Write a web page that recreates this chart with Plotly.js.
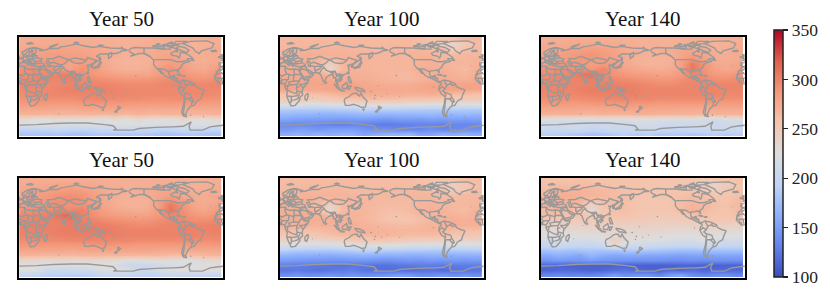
<!DOCTYPE html>
<html><head><meta charset="utf-8">
<script src="https://cdn.plot.ly/plotly-3.0.1.min.js"></script>
<style>html,body{margin:0;padding:0;background:#fff}#c{width:830px;height:298px}</style>
</head><body><div id="c"></div>
<script>
const titles = ["Year 50","Year 100","Year 140","Year 50","Year 100","Year 140"];
const lons = [10,30,50,70,90,110,130,150,170,190,210,230,250,270,290,310,330,350];
const lats = [85.5,76.5,67.5,58.5,49.5,40.5,31.5,22.5,13.5,4.5,-4.5,-13.5,-22.5,-31.5,-40.5,-49.5,-58.5,-67.5,-76.5,-85.5];
const tickVals = [100,150,200,250,300,350];

const z1 = [
[272,272,273,273,273,272,272,271,271,270,270,271,272,272,271,270,271,272],
[273,274,274,275,274,273,272,271,271,270,271,272,272,272,271,268,270,272],
[276,278,279,280,279,278,276,274,272,271,272,274,275,275,272,270,272,274],
[278,281,283,283,282,281,278,274,272,270,270,272,276,278,274,272,272,274],
[280,284,286,286,285,284,280,274,270,268,268,270,278,280,276,272,271,274],
[286,288,288,286,278,286,284,276,270,268,268,270,278,285,280,274,272,278],
[292,294,292,290,280,290,286,278,272,270,270,272,284,292,284,276,275,282],
[294,296,296,300,302,292,288,284,280,278,278,278,284,290,288,284,282,288],
[296,298,298,298,300,296,294,292,290,288,288,288,292,294,294,290,290,292],
[298,298,296,296,298,298,298,298,296,294,294,294,296,298,298,296,296,298],
[296,296,296,298,300,300,300,300,298,297,296,296,296,296,296,296,296,296],
[294,296,296,298,298,298,298,298,298,297,296,296,296,296,296,296,296,294],
[290,292,292,292,292,294,296,296,294,294,294,292,292,292,294,292,290,290],
[284,286,284,284,284,286,288,286,286,285,284,284,284,284,284,284,282,282],
[276,276,276,274,274,276,276,278,276,275,276,274,274,274,274,274,274,274],
[268,268,266,266,266,266,268,266,268,264,268,266,266,268,266,266,266,268],
[232,226,222,232,224,230,224,220,230,222,234,226,226,222,236,228,226,232],
[222,222,224,222,220,222,224,225,222,225,224,222,222,220,222,222,222,222],
[195,195,198,200,198,196,198,202,205,205,200,200,196,198,205,200,198,198],
[180,182,180,182,178,178,182,185,182,182,184,182,180,178,182,184,180,180]];

const z2 = [
[264,264,265,265,264,264,265,264,264,263,264,264,262,258,255,258,262,264],
[264,265,265,265,265,266,265,264,264,264,265,264,262,255,245,238,250,262],
[266,268,268,268,268,268,266,266,266,266,266,266,266,264,262,245,258,264],
[268,270,272,270,270,270,268,267,266,266,266,268,268,268,264,262,266,266],
[272,272,272,268,264,268,268,268,266,266,266,266,270,270,266,266,266,268],
[272,272,270,264,240,266,268,268,266,266,266,266,268,270,268,266,266,268],
[274,274,272,266,232,264,268,268,266,266,266,266,272,272,270,266,262,270],
[274,274,274,272,268,270,272,270,268,266,264,264,268,270,272,270,266,272],
[276,276,276,276,274,274,272,272,270,268,266,264,268,270,272,272,270,274],
[280,280,278,278,278,278,278,276,274,272,272,272,274,278,280,280,278,280],
[278,278,276,276,278,280,280,278,276,276,274,274,276,278,280,280,278,278],
[258,256,258,260,264,268,272,272,272,272,272,270,270,272,268,262,262,258],
[250,250,248,248,250,254,256,260,262,260,258,256,256,254,252,250,248,248],
[226,226,222,222,224,226,230,232,232,228,230,226,224,224,224,222,224,224],
[188,186,186,186,186,188,190,194,192,190,190,188,188,186,188,188,186,186],
[170,168,168,166,164,166,168,170,168,166,168,168,168,170,168,168,170,168],
[155,152,150,150,150,148,150,150,148,146,148,150,148,152,150,152,150,152],
[138,136,136,135,132,130,134,132,130,128,130,132,134,134,132,136,135,136],
[145,150,150,145,150,150,150,145,140,140,135,135,135,140,135,135,140,140],
[160,165,160,165,160,165,165,155,160,165,165,170,155,155,165,160,165,160]];

const z3 = [
[271,272,272,273,273,272,272,271,271,270,270,270,271,272,272,270,270,271],
[273,274,275,276,276,275,274,272,271,270,270,270,271,273,272,268,270,272],
[275,278,280,282,284,282,278,274,272,271,272,274,276,277,273,270,272,274],
[278,282,285,287,290,286,280,275,272,270,270,272,278,282,276,272,272,274],
[280,284,286,288,288,285,280,274,270,268,268,270,280,292,282,273,272,274],
[282,288,290,288,282,286,284,276,271,268,268,270,282,304,290,276,274,278],
[292,292,292,294,288,298,288,280,276,274,272,274,284,306,290,280,276,280],
[294,296,296,304,310,296,290,286,284,282,280,280,286,296,292,286,284,288],
[296,298,298,300,302,298,296,294,292,290,288,288,292,296,296,292,292,294],
[298,298,298,298,300,300,300,300,298,296,294,294,296,298,298,298,298,298],
[298,298,298,300,302,302,302,302,300,298,298,298,298,298,298,298,298,298],
[296,296,296,298,300,300,300,300,300,298,298,298,298,298,298,298,296,296],
[292,292,292,294,294,296,296,296,296,296,294,294,294,294,294,292,292,292],
[286,286,284,284,286,286,286,288,286,286,284,284,284,284,284,284,282,284],
[276,276,276,276,274,276,276,278,276,276,276,276,274,274,274,274,274,274],
[270,268,270,268,266,270,268,268,270,270,268,268,268,268,266,268,268,268],
[222,219,219,219,219,219,223,221,223,223,221,219,219,221,215,213,219,221],
[210,205,212,210,205,210,208,206,212,214,212,208,210,208,208,205,210,208],
[205,202,205,205,200,202,205,204,205,205,205,200,200,205,205,205,205,205],
[190,188,185,182,178,180,185,190,185,190,182,185,185,182,185,190,185,190]];

const z4 = [
[272,272,273,273,273,273,272,271,271,271,271,271,272,272,272,271,271,272],
[274,275,276,277,278,277,275,273,272,271,271,272,272,274,272,270,271,273],
[277,279,281,284,286,284,279,275,272,271,272,274,276,278,274,271,272,275],
[280,283,286,290,292,290,282,276,273,271,271,273,278,282,276,273,273,276],
[282,285,288,292,294,292,284,276,271,269,269,271,282,292,282,274,272,276],
[284,288,290,294,290,292,286,278,272,269,269,272,284,304,290,277,274,280],
[292,294,294,298,296,300,290,282,276,274,272,275,286,306,292,281,277,284],
[296,298,300,308,314,300,292,287,284,282,280,281,288,296,294,288,285,290],
[298,300,300,302,304,300,298,295,292,290,289,289,293,296,296,293,293,296],
[300,300,300,300,302,302,302,301,299,297,295,295,297,299,299,299,299,300],
[300,300,300,302,303,303,303,303,301,299,299,299,299,299,299,299,299,300],
[298,298,298,300,301,301,301,301,301,299,299,299,299,299,299,299,297,298],
[294,294,294,296,296,297,297,297,297,297,295,295,295,295,295,294,293,294],
[288,287,286,286,286,287,287,289,287,287,285,285,285,285,285,285,284,286],
[278,278,278,278,276,278,278,279,278,278,278,278,276,276,276,276,276,276],
[268,266,266,266,264,266,266,266,266,266,264,264,264,262,258,262,264,266],
[236,234,234,234,234,234,236,234,232,224,226,228,230,228,224,224,232,234],
[226,224,222,224,222,224,222,224,220,206,202,204,210,218,222,222,226,226],
[224,222,206,204,206,208,214,222,226,222,210,204,216,224,226,226,228,226],
[198,196,190,190,188,188,192,198,200,198,194,192,198,204,200,196,196,196]];

const z5 = [
[262,262,263,263,262,262,263,262,262,262,262,262,260,258,256,258,260,262],
[263,264,264,264,264,264,264,263,262,262,263,262,260,256,250,244,252,260],
[264,266,266,266,266,266,264,264,264,264,264,264,264,262,260,246,256,262],
[266,268,270,268,268,268,266,265,264,264,264,266,266,266,262,260,264,264],
[268,270,270,266,264,266,266,266,264,264,264,264,268,268,264,264,264,266],
[270,270,268,262,240,264,266,266,264,262,262,262,266,268,266,264,264,266],
[272,272,270,264,232,262,266,266,262,260,260,262,268,270,268,264,262,268],
[272,272,272,270,266,268,268,266,262,258,256,258,264,266,268,268,266,270],
[272,272,272,272,270,270,268,266,262,258,256,256,260,264,270,272,270,272],
[270,270,268,268,270,272,270,268,266,264,262,262,264,268,270,272,270,270],
[262,260,260,262,266,268,270,270,268,268,266,266,266,268,266,262,260,260],
[252,250,252,254,258,262,264,264,266,266,264,262,262,262,260,254,254,252],
[240,238,236,238,240,244,250,252,254,252,250,246,244,244,242,240,238,238],
[218,218,216,214,216,220,224,226,226,224,224,220,218,218,216,216,216,218],
[190,186,184,184,184,186,190,194,192,188,188,186,186,184,186,186,186,188],
[166,162,162,160,160,162,164,166,164,162,164,162,162,164,164,162,164,164],
[150,148,146,146,144,144,146,146,144,142,144,146,144,148,146,148,146,148],
[130,128,128,126,124,122,126,124,122,122,124,126,128,128,126,128,128,130],
[125,128,125,122,125,128,130,125,122,120,122,120,122,124,120,122,124,125],
[140,145,140,142,145,140,145,140,142,145,150,148,140,140,145,140,145,140]];

const z6 = [
[258,258,258,260,258,258,258,258,258,256,256,256,256,254,252,252,254,258],
[260,262,262,262,262,260,258,258,258,256,256,256,254,252,246,240,248,256],
[262,268,268,268,266,264,262,260,258,256,256,256,256,256,252,244,252,258],
[266,270,272,270,268,266,262,260,258,256,256,258,258,262,258,254,256,260],
[268,270,270,268,258,262,262,260,256,254,254,256,262,264,260,258,256,262],
[270,272,268,262,238,258,262,260,256,254,254,256,262,268,264,260,258,264],
[264,266,264,258,232,252,260,260,256,254,254,256,262,270,264,258,256,262],
[262,260,258,256,252,254,258,258,254,250,250,250,252,258,258,256,256,260],
[252,250,250,250,250,250,250,250,250,248,246,246,248,250,252,254,252,252],
[240,240,240,240,242,244,242,242,242,242,240,240,240,240,244,244,242,240],
[232,232,232,234,236,236,236,236,236,236,234,234,232,232,236,234,232,232],
[224,224,226,226,228,230,232,232,232,232,230,228,226,226,230,226,226,224],
[214,218,216,214,216,222,246,232,224,222,220,218,216,216,226,216,214,214],
[200,206,204,200,200,206,234,212,208,208,206,204,202,200,206,202,200,200],
[180,182,178,180,182,180,182,184,184,182,180,178,176,176,178,178,178,178],
[158,164,160,156,168,160,156,158,158,156,156,154,152,154,154,154,156,156],
[144,148,146,146,150,146,144,144,142,142,142,140,140,142,140,142,142,142],
[116,114,112,112,112,112,114,112,112,112,112,112,114,114,112,112,114,114],
[115,118,118,116,114,116,120,125,118,114,114,120,118,122,116,118,118,118],
[135,138,135,135,135,140,150,140,145,145,135,150,155,140,135,140,142,135]];

const coastlines = [
[[-6,36],[-2,35],[3,37],[10,37],[11,33.5],[15,32],[20,31],[25,32],[32,31],[34,28],[37,22],[39,16],[43,12],[51,12],[49,7],[44,1],[40,-4],[39,-10],[40,-15],[35,-20],[35,-24],[32,-28],[27,-34],[20,-35],[18,-32],[15,-25],[12,-17],[13,-9],[9,-1],[9,4],[5,6],[-3,5],[-8,4.5],[-13,9],[-17,14],[-16,20],[-13,27],[-9,32],[-6,36]],
[[49,-12],[50,-16],[47,-25],[44,-23],[44,-17],[49,-12]],
[[-9,37],[-9,43],[-2,43.5],[-1,46],[-5,48],[1,50],[4,52],[8,54],[8,57],[10,54],[14,54],[20,55],[22,58],[29,60],[23,60],[21,63],[25,65],[22,66],[17,61],[18,59],[16,56],[13,56],[11,59],[6,58],[5,62],[14,68],[25,71],[33,69],[41,67],[35,65],[44,66],[54,69],[68,69],[73,72],[80,73],[100,77],[113,74],[130,71],[140,73],[160,70],[180,69],[190,66],[180,65],[178,63],[170,60],[163,60],[162,55],[157,51],[156,57],[163,62],[155,59],[142,59],[135,55],[141,53],[140,48],[132,43],[128,39],[129,35],[126,35],[126,38],[125,40],[121,39],[118,39],[122,37],[120,34],[122,30],[119,25],[114,22],[110,21],[106,19],[109,13],[105,9],[100,13],[100,9],[103,2],[100,5],[98,9],[98,16],[94,16],[94,20],[90,22],[86,20],[80,15],[80,11],[77,8],[73,18],[72,21],[67,25],[57,25],[56,27],[50,30],[48,30],[51,25],[56,24],[59,22],[55,17],[45,13],[43,15],[39,21],[35,28],[35,36],[27,37],[26,40],[24,38],[22,37],[19,42],[13,45],[18,40],[16,38],[12,42],[8,44],[3,43],[0,39],[-5,36],[-9,37]],
[[28,41],[28,45],[33,46],[38,47],[40,43],[35,42],[28,41]],
[[50,37],[54,37],[53,42],[51,47],[47,45],[50,40],[50,37]],
[[-5,50],[1,51],[0,54],[-3,58],[-6,57],[-3,54],[-5,52],[-5,50]],
[[-10,52],[-6,52],[-6,55],[-10,54],[-10,52]],
[[-24,65],[-15,66],[-14,64],[-22,63.5],[-24,65]],
[[130,32],[135,34],[140,35],[142,40],[141,42],[145,43],[142,45],[140,41],[137,37],[131,34],[130,32]],
[[142,46],[143,50],[142,54],[142,46]],
[[120,22],[122,25],[120,25],[120,22]],
[[109,19],[111,20],[110,18],[109,19]],
[[80,9],[82,7],[80,6],[80,9]],
[[120,18],[122,18],[124,13],[126,7],[122,7],[120,14],[120,18]],
[[109,1],[117,7],[119,1],[116,-4],[110,-3],[109,1]],
[[95,5],[104,-2],[106,-6],[101,-3],[95,5]],
[[105,-7],[114,-8],[108,-6],[105,-7]],
[[120,1],[125,1],[122,-5],[120,-5],[120,1]],
[[131,-1],[141,-3],[147,-6],[150,-10],[143,-8],[138,-8],[133,-4],[131,-1]],
[[114,-22],[122,-18],[126,-14],[131,-12],[136,-12],[136,-15],[140,-17],[142,-11],[146,-19],[153,-26],[150,-37],[144,-38],[138,-35],[135,-34],[129,-32],[123,-34],[115,-34],[113,-26],[114,-22]],
[[145,-41],[148,-41],[147,-43],[145,-41]],
[[173,-35],[178,-38],[175,-41],[173,-39],[173,-35]],
[[173,-41],[171,-46],[167,-46],[173,-41]],
[[-168,66],[-162,70],[-156,71],[-140,70],[-125,70],[-110,68],[-95,68],[-95,72],[-85,69],[-82,67],[-94,60],[-92,57],[-82,55],[-80,51],[-78,55],[-77,62],[-70,61],[-65,59],[-56,52],[-66,50],[-60,46],[-66,44],[-70,43],[-74,40],[-76,35],[-81,31],[-80,25],[-82,28],[-84,30],[-90,29],[-97,28],[-97,22],[-95,18],[-91,19],[-87,21],[-88,16],[-83,15],[-83,10],[-78,9],[-80,7],[-85,10],[-92,14],[-97,16],[-105,20],[-109,25],[-113,31],[-110,23],[-115,30],[-120,34],[-124,40],[-124,48],[-130,54],[-140,60],[-150,60],[-158,57],[-165,55],[-158,59],[-165,62],[-168,66]],
[[-73,78],[-60,82],[-30,83],[-18,78],[-22,70],[-40,65],[-44,60],[-52,65],[-55,70],[-68,76],[-73,78]],
[[-80,73],[-70,71],[-62,66],[-66,62],[-75,65],[-85,70],[-80,73]],
[[-117,70],[-105,69],[-105,73],[-115,73],[-117,70]],
[[-90,76],[-75,78],[-65,82],[-85,82],[-90,76]],
[[-125,72],[-118,72],[-118,75],[-125,74],[-125,72]],
[[-92,75],[-80,75],[-85,77],[-92,75]],
[[-110,75],[-100,75],[-100,77],[-110,75]],
[[-100,72],[-95,72],[-96,75],[-100,74],[-100,72]],
[[-92,72],[-88,74],[-93,74],[-92,72]],
[[-86,64],[-81,63],[-84,65],[-86,64]],
[[-120,76],[-112,76],[-116,78],[-120,76]],
[[-100,78],[-90,78],[-92,81],[-100,78]],
[[-59,48],[-53,47],[-56,51],[-59,48]],
[[-84,22],[-75,20],[-78,22],[-84,22]],
[[-74,19],[-68,18.5],[-70,20],[-74,19]],
[[-78,9],[-72,12],[-62,10],[-52,5],[-50,0],[-44,-3],[-35,-6],[-39,-15],[-41,-22],[-48,-26],[-53,-34],[-58,-35],[-62,-39],[-65,-43],[-68,-50],[-66,-55],[-72,-53],[-75,-47],[-73,-38],[-71,-30],[-70,-18],[-76,-14],[-81,-5],[-80,1],[-77,4],[-78,9]],
[[52,71],[57,74],[68,77],[58,72],[52,71]],
[[12,78],[20,80],[25,78],[16,77],[12,78]],
[[95,79],[105,79],[100,81],[95,79]],
[[138,75],[148,75],[142,74],[138,75]],
[[178,71],[182,71]],
[[0,-70],[30,-69],[60,-67],[90,-66],[120,-66],[150,-69],[165,-71],[170,-77],[165,-79],[200,-79],[210,-76],[240,-74],[270,-73],[288,-72],[295,-68],[302,-64],[298,-72],[300,-79],[322,-79],[335,-73],[350,-71],[360,-70]]
];

const islands = [
[[-155,19],[-156,21]],[[178,-18],[179,-17]],[[165,-21],[167,-22]],[[159,-8],[161,-10]],[[167,-15],[168,-17]],
[[-91,-1],[-90,0]],[[69,-49],[70,-50]],[[-37,-54],[-36,-55]],[[-60,-52],[-58,-52]],[[-172,-14],[-171,-14]],
[[-150,-17],[-149,-18]],[[57,-20],[58,-20]],[[-16,28],[-15,28]],[[-25,38],[-24,38]],[[73,4],[73,3]],[[172,2],[173,1]]
];

const borders = [
[[-17,21],[-13,21],[-13,27]],[[-13,23],[-5,25],[3,19],[12,23],[9,30],[9,37]],[[12,23],[25,20],[25,32]],[[25,22],[37,22]],
[[24,20],[24,10],[34,10],[36,15],[39,16]],[[16,23],[15,13],[14,13],[3,12],[3,6]],[[3,15],[-5,15],[-12,15],[-16,16]],
[[-12,15],[-11,10],[-8,8],[-8,4.5]],[[-5,15],[-3,5]],[[1,11],[1,6]],[[14,13],[9,5]],[[15,8],[24,10]],[[15,8],[18,3],[30,4],[34,10]],
[[34,4],[42,4],[48,8]],[[30,4],[29,-4],[30,-8],[40,-11]],[[34,4],[41,-2]],[[30,-1],[34,-1]],[[13,-6],[22,-11],[30,-13],[30,-8]],
[[12,-17],[22,-18],[33,-16],[35,-12]],[[20,-18],[20,-28],[17,-29]],[[20,-25],[26,-24],[32,-22],[33,-16]],[[9,1],[14,2],[18,3]],[[14,2],[13,-5]],
[[-2,35],[-2,32],[-8,29],[-8,27]],
[[35,29],[39,32],[47,30]],[[43,17],[52,19],[56,24]],[[46,29],[48,30]],[[36,33],[42,37]],[[42,37],[46,35],[48,30]],
[[-9,42],[-7,37]],[[-2,43],[3,42.5]],[[3,51],[8,49],[7,44]],[[7,54],[6,50]],[[8,48],[13,47],[14,51],[14,54]],[[13,47],[18,48],[24,48],[30,45]],
[[14,51],[24,50],[24,54],[20,54]],[[24,50],[32,52],[40,50],[38,47]],[[24,54],[28,56],[28,60]],[[22,42],[28,42]],[[19,42],[23,41],[26,41]],
[[14,46],[19,46],[22,44]],[[20,69],[30,69.5],[29,61]],[[12,61],[20,69]],[[21,56],[28,56]],[[22,58],[27,58]],[[19,46],[19,42]],[[22,44],[22,41]],[[26,44],[28,44]],
[[6,46],[10,47]],[[7,44],[7,46],[13,46.5]],[[18,48],[18,50]],[[32,52],[31,56],[28,56]],
[[47,50],[60,51],[70,55],[80,51],[87,49]],[[87,49],[98,52],[108,50],[118,48],[112,43],[105,42],[96,43],[87,49]],[[118,48],[120,53],[127,50],[135,48],[131,43]],
[[87,49],[80,42],[74,39],[78,34],[81,30],[88,27],[97,28],[98,24],[102,22],[106,23],[108,21.5]],[[125,40],[130,42.5]],[[126,38],[128.5,38.5]],
[[53,42],[60,44],[68,41],[74,39]],[[54,38],[62,36],[66,37],[74,37]],[[61,36],[61,31],[63,27],[62,25]],[[74,37],[70,33],[66,30],[61,29]],
[[78,34],[74,32],[70,25],[68,24]],[[44,39],[46,35]],[[36,37],[44,37],[44,41],[41,41.5]],[[88,26],[92,25],[92,21]],[[92,21],[94,25],[97,28]],
[[98,24],[100,20],[98,16]],[[100,20],[105,18],[107,15],[105,11]],[[102,14],[107,15]],[[103,18],[108,22]],
[[-141,70],[-141,60],[-130,55]],[[-123,49],[-95,49],[-83,45],[-75,45],[-67,47],[-67,45]],[[-117,32.5],[-106,31.5],[-97,26]],[[-92,14.5],[-91,18],[-89,18],[-88,16]],
[[-89,14],[-85,14],[-83,15]],
[[-72,12],[-67,2],[-70,-4],[-74,-8],[-70,-11],[-69,-17],[-70,-18]],[[-77,1],[-70,-4]],[[-81,-4],[-75,-1]],[[-60,8],[-60,5],[-64,4],[-67,2]],
[[-60,5],[-57,2],[-52,3]],[[-70,-11],[-60,-14],[-58,-20],[-55,-24],[-54,-27],[-57,-30],[-58,-34]],[[-69,-22],[-62,-22],[-58,-20]],
[[-69,-22],[-70,-33],[-72,-50],[-68,-52]],[[-62,-22],[-58,-27],[-54,-27]]
];

const coolwarm = [[0,'#3b4cc0'],[0.125,'#6282ea'],[0.25,'#8db0fe'],[0.375,'#c0d4f5'],[0.5,'#dddddd'],[0.625,'#f5c4ad'],[0.75,'#f4987a'],[0.875,'#de604d'],[1,'#b40426']];

const W = 830, H = 298;
const panelLeft = [19, 279.6, 540.7];
const panelW = 204;
const rowTop = [36.7, 177.7];
const panelH = 100.6;
const zs = [z1, z2, z3, z4, z5, z6];

const lineX = [], lineY = [];
[...coastlines, ...islands, ...borders].forEach(seg => {
  [0, 360].forEach(shift => {
    seg.forEach(p => { lineX.push(p[0] + shift); lineY.push(p[1]); });
    lineX.push(null); lineY.push(null);
  });
});

const traces = [];
const layout = {
  width: W, height: H, margin: {l:0, r:0, t:0, b:0}, showlegend: false,
  paper_bgcolor: '#fff', plot_bgcolor: '#fff',
  font: {family: '"Liberation Serif", serif', color: '#111'},
  coloraxis: {
    cmin: 100, cmax: 350, colorscale: coolwarm,
    colorbar: {
      thicknessmode: 'pixels', thickness: 9, lenmode: 'pixels', len: 247,
      x: 774/W, xanchor: 'left', y: 1 - 153.5/H, yanchor: 'middle', xpad: 0, ypad: 0,
      outlinewidth: 1.5, outlinecolor: '#222', borderwidth: 0,
      tickmode: 'array', tickvals: tickVals, ticktext: tickVals.map(String),
      ticks: 'outside', ticklen: 5, tickwidth: 1.2, tickcolor: '#222',
      tickfont: {family: '"Liberation Serif", serif', size: 17.5, color: '#222'}
    }
  },
  annotations: []
};

titles.forEach((t, i) => {
  const col = i % 3, row = Math.floor(i / 3), n = i + 1;
  const ax = n === 1 ? '' : String(n);
  traces.push({type:'heatmap', x: lons.map(v => v * 0.985), y: lats, z: zs[i], coloraxis:'coloraxis', zsmooth:'best', xaxis:'x'+ax, yaxis:'y'+ax, hoverinfo:'skip'});
  traces.push({type:'scatter', mode:'lines', x: lineX, y: lineY, line:{color:'#999999', width:1.4, simplify:false}, xaxis:'x'+ax, yaxis:'y'+ax, hoverinfo:'skip', connectgaps:false});
  const axisBase = {showgrid:false, zeroline:false, showticklabels:false, ticks:'', showline:true, mirror:true, linecolor:'#000', linewidth:2};
  layout['xaxis'+ax] = Object.assign({}, axisBase, {domain:[panelLeft[col]/W, (panelLeft[col]+panelW)/W], range:[-0.5,357.7], anchor:'y'+ax});
  layout['yaxis'+ax] = Object.assign({}, axisBase, {domain:[1-(rowTop[row]+panelH)/H, 1-rowTop[row]/H], range:[-92,90.5], anchor:'x'+ax});
  layout.annotations.push({text:t, xref:'paper', yref:'paper', x:(panelLeft[col]+panelW/2)/W, y:1-(rowTop[row]-3.5)/H, xanchor:'center', yanchor:'bottom', showarrow:false, font:{size:21, color:'#111'}});
});

Plotly.newPlot('c', traces, layout, {staticPlot:true, displayModeBar:false});
</script></body></html>
